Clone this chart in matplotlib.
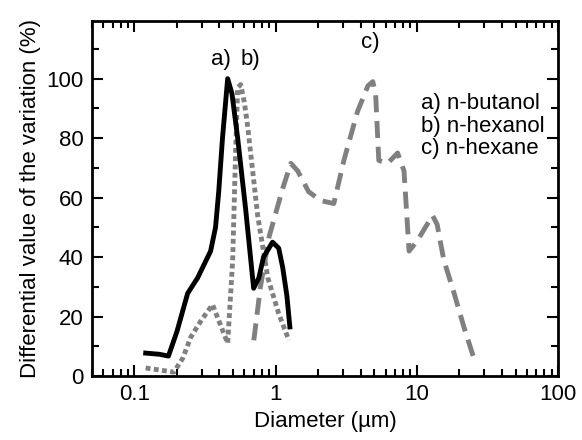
import matplotlib
matplotlib.use('Agg')
import matplotlib.pyplot as plt
from matplotlib.ticker import LogLocator, MultipleLocator, FixedLocator

plt.rcParams['font.family'] = ['Liberation Sans', 'DejaVu Sans']

# a) n-butanol
x_a = [0.12, 0.15, 0.174, 0.2, 0.238, 0.28, 0.346, 0.375, 0.395, 0.42, 0.457, 0.49, 0.538, 0.613,
       0.698, 0.76, 0.82, 0.95, 1.05, 1.12, 1.2, 1.26]
y_a = [7.7, 7.3, 6.7, 15, 27.8, 33, 42, 50, 62, 80, 100, 95, 80, 56,
       29.5, 33, 40, 45, 43, 36.6, 27, 16.5]

# b) n-hexanol
x_b = [0.12, 0.19, 0.22, 0.25, 0.3, 0.357, 0.4, 0.457, 0.496, 0.52, 0.538, 0.565, 0.6, 0.633,
       0.745, 0.88, 1.05, 1.24]
y_b = [2.7, 1.3, 6, 13, 19, 24, 18, 11, 39, 75, 97, 98, 92, 84,
       54, 33, 21, 12]

# c) n-hexane
x_c = [0.70, 0.78, 0.9, 1.12, 1.28, 1.43, 1.71, 2.08, 2.58, 3.04, 3.8, 4.5, 4.87, 5.1, 5.37,
       6.2, 7.3, 8.1, 8.8, 10.1, 12.9, 13.9, 15.5, 18.3, 21.5, 25.3]
y_c = [12, 30, 47, 63, 71.5, 69, 62, 59, 58, 72.5, 89, 97.6, 99, 95, 72.5,
       71.5, 75, 69, 42, 45.6, 54, 51, 39, 28, 16.5, 6]

legend_lines = ['a) n-butanol', 'b) n-hexanol', 'c) n-hexane']

fig = plt.figure(figsize=(5.82, 4.4), dpi=100)
ax = fig.add_axes([0.158, 0.1455, 0.801, 0.8075])

gray = '#808080'
ax.plot(x_c, y_c, color=gray, lw=3.5, linestyle=(0, (3.5, 1.8)))
ax.plot(x_b, y_b, color=gray, lw=3.5, linestyle=(0, (1.0, 0.7)))
ax.plot(x_a, y_a, color='black', lw=3.5, solid_joinstyle='round')

ax.set_xscale('log')
ax.set_xlim(0.05, 100)
ax.set_ylim(0, 119.5)
ax.xaxis.set_major_locator(FixedLocator([0.1, 1, 10, 100]))
ax.xaxis.set_minor_locator(LogLocator(base=10, subs=range(2, 10), numticks=20))
ax.set_xticklabels(['0.1', '1', '10', '100'])
ax.yaxis.set_major_locator(FixedLocator([0, 20, 40, 60, 80, 100]))
ax.yaxis.set_minor_locator(MultipleLocator(10))

ax.tick_params(which='both', direction='in', top=True, right=True, width=1.5, labelsize=16)
ax.tick_params(which='major', length=8, pad=6)
ax.tick_params(which='minor', length=5)
for s in ax.spines.values():
    s.set_linewidth(2)

ax.set_xlabel('Diameter (\u00b5m)', fontsize=16, labelpad=4)
ax.set_ylabel('Differential value of the variation (%)', fontsize=16, labelpad=4)

ax.text(0.41, 106.5, 'a)', fontsize=16, ha='center', va='center')
ax.text(0.665, 106.5, 'b)', fontsize=16, ha='center', va='center')
ax.text(4.7, 112, 'c)', fontsize=16, ha='center', va='center')
for i, line in enumerate(legend_lines):
    ax.text(10.7, 91.6 - 7.6 * i, line, fontsize=16, ha='left', va='center')

fig.savefig('out.png', dpi=100)
